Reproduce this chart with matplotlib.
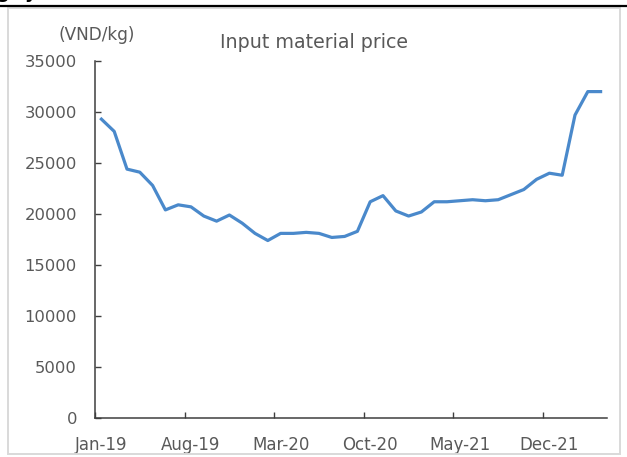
import matplotlib
matplotlib.use("Agg")
import matplotlib.pyplot as plt
from matplotlib.patches import Rectangle

# monthly input material price, Jan-19 .. Apr-22 (VND/kg)
months = ["Jan-19", "Feb-19", "Mar-19", "Apr-19", "May-19", "Jun-19", "Jul-19",
          "Aug-19", "Sep-19", "Oct-19", "Nov-19", "Dec-19", "Jan-20", "Feb-20",
          "Mar-20", "Apr-20", "May-20", "Jun-20", "Jul-20", "Aug-20", "Sep-20",
          "Oct-20", "Nov-20", "Dec-20", "Jan-21", "Feb-21", "Mar-21", "Apr-21",
          "May-21", "Jun-21", "Jul-21", "Aug-21", "Sep-21", "Oct-21", "Nov-21",
          "Dec-21", "Jan-22", "Feb-22", "Mar-22", "Apr-22"]
price = [29300, 28100, 24400, 24100, 22800, 20400, 20900, 20700, 19800, 19300,
         19900, 19100, 18100, 17400, 18100, 18100, 18200, 18100, 17700, 17800,
         18300, 21200, 21800, 20300, 19800, 20200, 21200, 21200, 21300, 21400,
         21300, 21400, 21900, 22400, 23400, 24000, 23800, 29700, 32000, 32000]
label_every = 7
y_ticks = [0, 5000, 10000, 15000, 20000, 25000, 30000, 35000]

txt = "#595959"
axc = "#3f3f3f"

fig = plt.figure(figsize=(6.27, 4.57), dpi=100)
ax = fig.add_axes([95 / 627, 39 / 457, 512 / 627, 357 / 457])

x = list(range(len(months)))
ax.plot(x, price, color="#4A89CB", lw=2.3, solid_joinstyle="round")

ax.set_xlim(-0.5, len(months) - 0.5)
ax.set_ylim(0, 35000)
ax.set_yticks(y_ticks)
ax.set_yticklabels([str(v) for v in y_ticks])

# tick marks between categories, labels on the categories
lab_idx = list(range(0, len(months), label_every))
ax.set_xticks([i - 0.5 for i in lab_idx])
ax.set_xticklabels([])
ax.set_xticks(lab_idx, minor=True)
ax.set_xticklabels([months[i] for i in lab_idx], minor=True)

ax.tick_params(axis="x", which="major", direction="in", length=4.5, width=1, color=axc)
ax.tick_params(axis="x", which="minor", length=0, pad=13, labelsize=12, labelcolor=txt)
ax.tick_params(axis="y", direction="in", length=4, width=1, color=axc,
               pad=13, labelsize=11.8, labelcolor=txt)

for s in ["top", "right"]:
    ax.spines[s].set_visible(False)
for s in ["left", "bottom"]:
    ax.spines[s].set_color(axc)
    ax.spines[s].set_linewidth(1.1)

fig.text(97 / 627, 1 - 35.5 / 457, "(VND/kg)", ha="center", va="center",
         fontsize=12.2, color=txt)
fig.text(314.5 / 627, 1 - 47.5 / 457, "Input material price", ha="center",
         va="baseline", fontsize=13.7, color=txt)

# chart frame and the page rule above it
fig.patches.append(Rectangle((8 / 627, 3 / 457), 612 / 627, 446 / 457,
                             transform=fig.transFigure, fill=False,
                             edgecolor="#d9d9d9", lw=1.4))
fig.add_artist(plt.Line2D([0, 1], [1 - 6 / 457, 1 - 6 / 457],
                          transform=fig.transFigure, color="black", lw=1.6))
# tails of the caption line cropped off above the chart
fig.text(-4 / 627, 1 + 1.5 / 457, "g", fontsize=13, fontweight="bold", va="baseline")
fig.text(25 / 627, 1 + 1.5 / 457, "y", fontsize=13, fontweight="bold", va="baseline")

fig.savefig("out.png", dpi=100)
